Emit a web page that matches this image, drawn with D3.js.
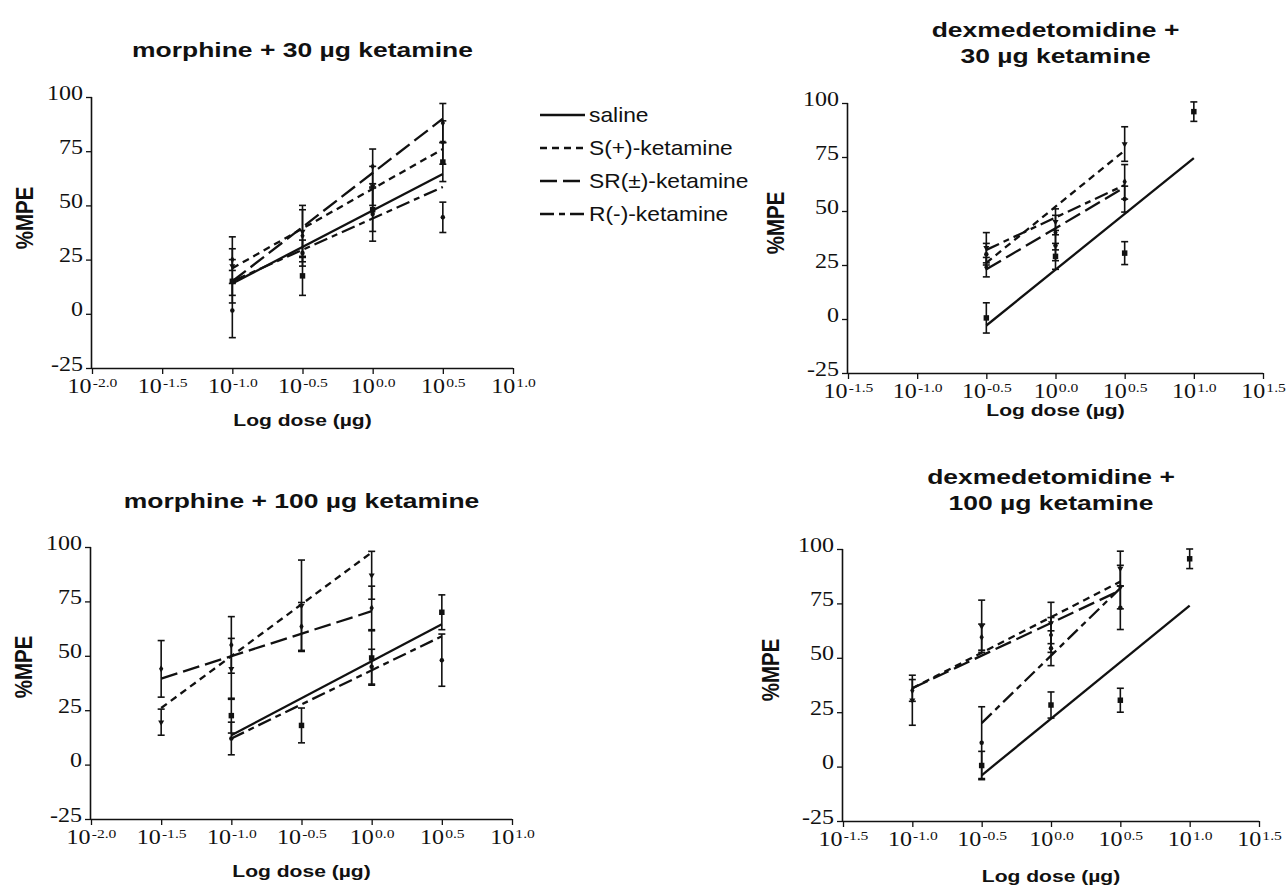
<!DOCTYPE html>
<html>
<head>
<meta charset="utf-8">
<script src="https://cdn.jsdelivr.net/npm/d3@7"></script>
<style>
	body { margin: 0; background: #fff; }
	svg { display: block; }
	.tick-label { font-family: 'Liberation Serif', 'Times New Roman', serif; fill: #111; }
	.bold-label { font-family: 'Liberation Sans', Arial, sans-serif; font-weight: bold; fill: #111; }
	.legend-text { font-family: 'Liberation Sans', Arial, sans-serif; fill: #111; }
</style>
</head>
<body>
<svg id="chart" width="1287" height="886"></svg>
<script>
/* global d3 */

// series shown in every panel
const seriesNames = [ 'saline', 'S(+)-ketamine', 'SR(±)-ketamine', 'R(-)-ketamine' ];

// y ticks (%MPE), shared by all panels
const yTicks = [ -25, 0, 25, 50, 75, 100 ];

// x ticks (log10 dose)
const morphineXTicks = [ -2.0, -1.5, -1.0, -0.5, 0.0, 0.5, 1.0 ];
const dexXTicks = [ -1.5, -1.0, -0.5, 0.0, 0.5, 1.0, 1.5 ];

// regression lines: [series, logDose start, %MPE start, logDose end, %MPE end]
const morph30Fits = [
	[ 'saline', -1.0, 14, 0.5, 64.5 ],
	[ 'S(+)-ketamine', -1.0, 21, 0.5, 76 ],
	[ 'SR(±)-ketamine', -1.0, 15, 0.5, 90 ],
	[ 'R(-)-ketamine', -1.0, 15, 0.5, 58.5 ],
];
const dex30Fits = [
	[ 'saline', -0.5, -3, 1.0, 74.5 ],
	[ 'S(+)-ketamine', -0.5, 26, 0.5, 78 ],
	[ 'SR(±)-ketamine', -0.5, 23, 0.5, 61 ],
	[ 'R(-)-ketamine', -0.5, 32, 0.5, 62 ],
];
const morph100Fits = [
	[ 'saline', -1.0, 13.5, 0.5, 64.5 ],
	[ 'S(+)-ketamine', -1.5, 26, 0.0, 97.5 ],
	[ 'SR(±)-ketamine', -1.5, 39.5, 0.0, 70.5 ],
	[ 'R(-)-ketamine', -1.0, 12, 0.5, 59 ],
];
const dex100Fits = [
	[ 'saline', -0.5, -4, 1.0, 74 ],
	[ 'S(+)-ketamine', -1.0, 36, 0.5, 85 ],
	[ 'SR(±)-ketamine', -1.0, 36, 0.5, 81 ],
	[ 'R(-)-ketamine', -0.5, 20, 0.5, 82 ],
];

// means ± SEM: [series, logDose, %MPE, sem]
const morph30Points = [
	[ 'saline', -1.0, 15, 10 ], [ 'saline', -0.5, 17.5, 9 ], [ 'saline', 0.0, 48, 10 ], [ 'saline', 0.5, 70, 9 ],
	[ 'S(+)-ketamine', -1.0, 22, 13.5 ], [ 'S(+)-ketamine', -0.5, 38, 12 ], [ 'S(+)-ketamine', 0.0, 59, 9 ], [ 'S(+)-ketamine', 0.5, 79, 10 ],
	[ 'SR(±)-ketamine', -1.0, 25, 5 ], [ 'SR(±)-ketamine', -0.5, 36, 12 ], [ 'SR(±)-ketamine', 0.0, 68, 8 ], [ 'SR(±)-ketamine', 0.5, 88, 9 ],
	[ 'R(-)-ketamine', -1.0, 1.5, 12.5 ], [ 'R(-)-ketamine', -0.5, 28, 6 ], [ 'R(-)-ketamine', 0.0, 46, 12.5 ], [ 'R(-)-ketamine', 0.5, 44.5, 7 ],
];
const dex30Points = [
	[ 'saline', -0.5, 0.5, 7 ], [ 'saline', 0.0, 29, 6 ], [ 'saline', 0.5, 30.5, 5.3 ], [ 'saline', 1.0, 96, 4.5 ],
	[ 'S(+)-ketamine', -0.5, 33, 7 ], [ 'S(+)-ketamine', 0.0, 45, 6 ], [ 'S(+)-ketamine', 0.5, 81, 8 ],
	[ 'SR(±)-ketamine', -0.5, 24, 4.5 ], [ 'SR(±)-ketamine', 0.0, 40, 8 ], [ 'SR(±)-ketamine', 0.5, 63.5, 8 ],
	[ 'R(-)-ketamine', -0.5, 30, 5 ], [ 'R(-)-ketamine', 0.0, 34, 7 ], [ 'R(-)-ketamine', 0.5, 55.5, 6 ],
];
const morph100Points = [
	[ 'saline', -1.0, 22.5, 8 ], [ 'saline', -0.5, 18, 8 ], [ 'saline', 0.0, 49, 12.5 ], [ 'saline', 0.5, 70, 8 ],
	[ 'S(+)-ketamine', -1.5, 19.5, 6 ], [ 'S(+)-ketamine', -1.0, 44, 14 ], [ 'S(+)-ketamine', -0.5, 73, 21 ], [ 'S(+)-ketamine', 0.0, 87, 11 ],
	[ 'SR(±)-ketamine', -1.5, 44, 13 ], [ 'SR(±)-ketamine', -1.0, 55, 13 ], [ 'SR(±)-ketamine', -0.5, 63.5, 11 ], [ 'SR(±)-ketamine', 0.0, 72, 10 ],
	[ 'R(-)-ketamine', -1.0, 12, 7.5 ], [ 'R(-)-ketamine', 0.0, 45, 8 ], [ 'R(-)-ketamine', 0.5, 48, 12 ],
];
const dex100Points = [
	[ 'saline', -0.5, 0.5, 6.5 ], [ 'saline', 0.0, 28.3, 6 ], [ 'saline', 0.5, 30.5, 5.5 ], [ 'saline', 1.0, 95.5, 4.5 ],
	[ 'S(+)-ketamine', -1.0, 30.5, 11.5 ], [ 'S(+)-ketamine', -0.5, 64.5, 12 ], [ 'S(+)-ketamine', 0.0, 66, 9.5 ], [ 'S(+)-ketamine', 0.5, 91, 8 ],
	[ 'SR(±)-ketamine', -1.0, 35, 5 ], [ 'SR(±)-ketamine', -0.5, 59.5, 6 ], [ 'SR(±)-ketamine', 0.0, 60.5, 8 ], [ 'SR(±)-ketamine', 0.5, 82.5, 10 ],
	[ 'R(-)-ketamine', -0.5, 11, 16.5 ], [ 'R(-)-ketamine', 0.0, 54.4, 8 ], [ 'R(-)-ketamine', 0.5, 73, 10 ],
];

// line styles per series
const dashes = {
	'saline': null,
	'S(+)-ketamine': '7,5',
	'SR(±)-ketamine': '17,6',
	'R(-)-ketamine': '14,5,6,5',
};

// the scanned figure is wider than tall, so text is stretched horizontally
const STRETCH = 1.2;

const svg = d3.select( '#chart' );

/**
 * Draw one panel
 *
 * @param {Object} cfg - panel layout and data
 */
function drawPanel( cfg ) {
	const x = d3.scaleLinear().domain( d3.extent( cfg.xTicks ) ).range( [ cfg.left, cfg.right ] );
	const y = d3.scaleLinear().domain( [ -25, 100 ] ).range( [ cfg.bottom, cfg.top ] );
	const g = svg.append( 'g' );

	// y axis
	const yAxis = g.append( 'g' )
		.attr( 'transform', `translate(${ cfg.left },0)` )
		.call( d3.axisLeft( y ).tickValues( yTicks ).tickSize( 6 ).tickFormat( ( d ) => String( d ) ) );
	yAxis.select( '.domain' ).attr( 'stroke', '#111' ).attr( 'stroke-width', 1.6 ).attr( 'd', `M-0.5,${ cfg.top }V${ cfg.bottom }` );
	yAxis.selectAll( '.tick line' ).attr( 'stroke', '#111' ).attr( 'stroke-width', 1.3 );
	yAxis.selectAll( '.tick text' )
		.attr( 'class', 'tick-label' )
		.attr( 'font-size', 20 )
		.attr( 'x', 0 )
		.attr( 'dy', 0 )
		.attr( 'transform', `translate(-9,2) scale(${ STRETCH },1)` );

	// x axis
	const xAxis = g.append( 'g' )
		.attr( 'transform', `translate(0,${ cfg.bottom })` )
		.call( d3.axisBottom( x ).tickValues( cfg.xTicks ).tickSize( 6 ).tickFormat( '' ) );
	xAxis.select( '.domain' ).attr( 'stroke', '#111' ).attr( 'stroke-width', 1.6 ).attr( 'd', `M${ cfg.left },0.5H${ cfg.right }` );
	xAxis.selectAll( '.tick line' ).attr( 'stroke', '#111' ).attr( 'stroke-width', 1.3 );
	xAxis.selectAll( '.tick' ).each( function( d ) {
		const t = d3.select( this ).append( 'text' )
			.attr( 'class', 'tick-label' )
			.attr( 'text-anchor', 'middle' )
			.attr( 'transform', `translate(0,25) scale(${ STRETCH },1)` )
			.attr( 'font-size', 20 );
		t.append( 'tspan' ).text( '10' );
		t.append( 'tspan' ).attr( 'dx', 1 ).attr( 'dy', -6 ).attr( 'font-size', 13 ).text( d.toFixed( 1 ) );
	} );

	// regression lines
	g.selectAll( 'line.fit' )
		.data( cfg.fits )
		.join( 'line' )
		.attr( 'class', 'fit' )
		.attr( 'x1', ( d ) => x( d[ 1 ] ) )
		.attr( 'y1', ( d ) => y( d[ 2 ] ) )
		.attr( 'x2', ( d ) => x( d[ 3 ] ) )
		.attr( 'y2', ( d ) => y( d[ 4 ] ) )
		.attr( 'stroke', '#111' )
		.attr( 'stroke-width', 2.3 )
		.attr( 'stroke-dasharray', ( d ) => dashes[ d[ 0 ] ] );

	// error bars
	const bars = g.selectAll( 'g.err' )
		.data( cfg.points )
		.join( 'g' )
		.attr( 'class', 'err' )
		.attr( 'stroke', '#111' )
		.attr( 'stroke-width', 1.6 );
	bars.append( 'line' )
		.attr( 'x1', ( d ) => x( d[ 1 ] ) )
		.attr( 'x2', ( d ) => x( d[ 1 ] ) )
		.attr( 'y1', ( d ) => y( d[ 2 ] - d[ 3 ] ) )
		.attr( 'y2', ( d ) => y( d[ 2 ] + d[ 3 ] ) );
	[ -1, 1 ].forEach( ( s ) => {
		bars.append( 'line' )
			.attr( 'x1', ( d ) => x( d[ 1 ] ) - 3.5 )
			.attr( 'x2', ( d ) => x( d[ 1 ] ) + 3.5 )
			.attr( 'y1', ( d ) => y( d[ 2 ] + s * d[ 3 ] ) )
			.attr( 'y2', ( d ) => y( d[ 2 ] + s * d[ 3 ] ) );
	} );

	// markers
	const symbolFor = {
		'saline': d3.symbolSquare,
		'S(+)-ketamine': d3.symbolTriangle,
		'SR(±)-ketamine': d3.symbolDiamond,
		'R(-)-ketamine': d3.symbolCircle,
	};
	g.selectAll( 'path.mark' )
		.data( cfg.points )
		.join( 'path' )
		.attr( 'class', 'mark' )
		.attr( 'transform', ( d ) => `translate(${ x( d[ 1 ] ) },${ y( d[ 2 ] ) })${ d[ 0 ] === 'S(+)-ketamine' ? ' rotate(180)' : '' }` )
		.attr( 'd', ( d ) => d3.symbol().type( symbolFor[ d[ 0 ] ] ).size( d[ 0 ] === 'saline' ? 30 : 16 )() )
		.attr( 'fill', '#111' );

	// title, centred over the x axis
	const title = g.append( 'text' )
		.attr( 'class', 'bold-label' )
		.attr( 'text-anchor', 'middle' )
		.attr( 'font-size', 21 )
		.attr( 'transform', `translate(${ ( cfg.left + cfg.right ) / 2 },${ cfg.titleY }) scale(1.26,1)` );
	cfg.title.forEach( ( line, i ) => {
		title.append( 'tspan' )
			.attr( 'x', 0 )
			.attr( 'y', -( cfg.title.length - 1 - i ) * 26 )
			.text( line );
	} );

	// y label
	g.append( 'text' )
		.attr( 'class', 'bold-label' )
		.attr( 'text-anchor', 'middle' )
		.attr( 'font-size', 20.5 )
		.attr( 'transform', `translate(${ cfg.yLabelX },${ cfg.yLabelY }) scale(${ STRETCH },1) rotate(-90)` )
		.attr( 'dy', '0.36em' )
		.text( '%MPE' );

	// x label
	g.append( 'text' )
		.attr( 'class', 'bold-label' )
		.attr( 'text-anchor', 'middle' )
		.attr( 'font-size', 17 )
		.attr( 'transform', `translate(${ ( cfg.left + cfg.right ) / 2 },${ cfg.xLabelY }) scale(1.24,1)` )
		.text( 'Log dose (µg)' );
}

drawPanel( {
	left: 92, right: 513, top: 97, bottom: 368,
	xTicks: morphineXTicks, fits: morph30Fits, points: morph30Points,
	title: [ 'morphine + 30 µg ketamine' ], titleY: 57,
	yLabelX: 24, yLabelY: 218, xLabelY: 426,
} );
drawPanel( {
	left: 848, right: 1263, top: 103, bottom: 373,
	xTicks: dexXTicks, fits: dex30Fits, points: dex30Points,
	title: [ 'dexmedetomidine +', '30 µg ketamine' ], titleY: 63,
	yLabelX: 775, yLabelY: 223, xLabelY: 416,
} );
drawPanel( {
	left: 91, right: 512, top: 547, bottom: 819,
	xTicks: morphineXTicks, fits: morph100Fits, points: morph100Points,
	title: [ 'morphine + 100 µg ketamine' ], titleY: 508,
	yLabelX: 23, yLabelY: 667, xLabelY: 877,
} );
drawPanel( {
	left: 843, right: 1259, top: 549, bottom: 821,
	xTicks: dexXTicks, fits: dex100Fits, points: dex100Points,
	title: [ 'dexmedetomidine +', '100 µg ketamine' ], titleY: 510,
	yLabelX: 770, yLabelY: 670, xLabelY: 882,
} );

// legend
const legend = svg.append( 'g' ).attr( 'transform', 'translate(540,115)' );
seriesNames.forEach( ( name, i ) => {
	const row = legend.append( 'g' ).attr( 'transform', `translate(0,${ i * 33 })` );
	row.append( 'line' )
		.attr( 'x1', 0 ).attr( 'x2', 45 )
		.attr( 'stroke', '#111' )
		.attr( 'stroke-width', 2.3 )
		.attr( 'stroke-dasharray', dashes[ name ] );
	row.append( 'text' )
		.attr( 'class', 'legend-text' )
		.attr( 'transform', `translate(49,0) scale(1.14,1)` )
		.attr( 'dy', '0.35em' )
		.attr( 'font-size', 20 )
		.text( name );
} );
</script>
</body>
</html>
